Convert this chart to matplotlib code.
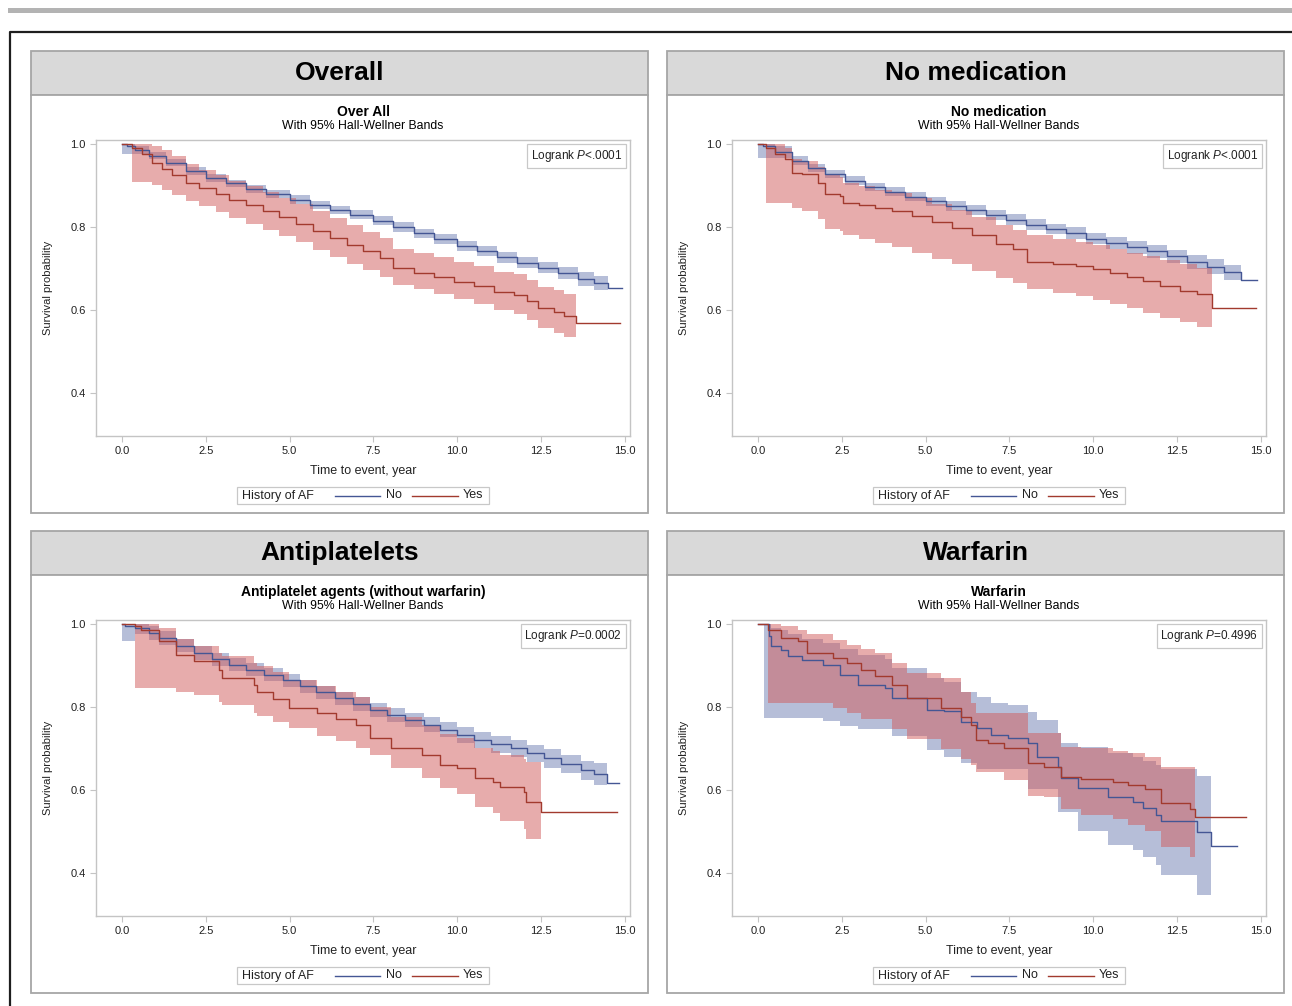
import matplotlib
matplotlib.use('Agg')
import matplotlib.pyplot as plt
from matplotlib.patches import Rectangle
from matplotlib.lines import Line2D

plt.rcParams['font.family'] = ['Liberation Sans', 'DejaVu Sans']
plt.rcParams['mathtext.fontset'] = 'custom'
plt.rcParams['mathtext.rm'] = 'Liberation Sans'
plt.rcParams['mathtext.it'] = 'Liberation Sans:italic'

# ---- data (time in years, survival) ----
x_ticks = [0, 2.5, 5, 7.5, 10, 12.5, 15]
x_tick_labels = ['0.0', '2.5', '5.0', '7.5', '10.0', '12.5', '15.0']
y_ticks = [0.4, 0.6, 0.8, 1.0]
y_tick_labels = ['0.4', '0.6', '0.8', '1.0']

# Overall
overall_no_t = [0, 0.15, 0.4, 0.8, 1.3, 1.9, 2.5, 3.1, 3.7, 4.3, 5.0, 5.6, 6.2, 6.8, 7.5, 8.1, 8.7,
                9.3, 10.0, 10.6, 11.2, 11.8, 12.4, 13.0, 13.6, 14.1, 14.5, 14.93]
overall_no_s = [1.0, 0.995, 0.985, 0.972, 0.955, 0.935, 0.918, 0.905, 0.892, 0.880, 0.866, 0.853, 0.841,
                0.830, 0.815, 0.800, 0.785, 0.770, 0.755, 0.742, 0.727, 0.714, 0.702, 0.689, 0.675, 0.665,
                0.652, 0.652]
overall_no_lo = [0.977, 0.977, 0.975, 0.963, 0.946, 0.926, 0.909, 0.896, 0.883, 0.870, 0.856, 0.843, 0.831,
                 0.819, 0.804, 0.789, 0.774, 0.758, 0.743, 0.729, 0.714, 0.701, 0.688, 0.674, 0.659, 0.648,
                 0.636, 0.636]
overall_no_hi = [1.0, 1.0, 0.994, 0.981, 0.964, 0.944, 0.927, 0.914, 0.901, 0.890, 0.876, 0.863, 0.851,
                 0.841, 0.826, 0.811, 0.796, 0.782, 0.767, 0.755, 0.740, 0.727, 0.716, 0.704, 0.691, 0.682,
                 0.669, 0.669]
overall_yes_t = [0, 0.3, 0.6, 0.9, 1.2, 1.5, 1.9, 2.3, 2.8, 3.2, 3.7, 4.2, 4.7, 5.2, 5.7, 6.2, 6.7, 7.2,
                 7.7, 8.1, 8.7, 9.3, 9.9, 10.5, 11.1, 11.7, 12.1, 12.4, 12.9, 13.2, 13.55, 14.85]
overall_yes_s = [1.0, 0.99, 0.975, 0.955, 0.94, 0.925, 0.905, 0.893, 0.880, 0.866, 0.852, 0.838, 0.823,
                 0.808, 0.790, 0.773, 0.756, 0.741, 0.725, 0.700, 0.690, 0.680, 0.668, 0.657, 0.643, 0.636,
                 0.622, 0.604, 0.595, 0.585, 0.569, 0.569]
overall_yes_lo = [1.0, 0.908, 0.908, 0.900, 0.890, 0.878, 0.862, 0.850, 0.836, 0.822, 0.808, 0.793, 0.778,
                  0.763, 0.745, 0.728, 0.711, 0.696, 0.680, 0.660, 0.650, 0.639, 0.626, 0.614, 0.600, 0.590,
                  0.575, 0.556, 0.545, 0.535, 0.530, 0.530]
overall_yes_hi = [1.0, 1.0, 1.0, 0.995, 0.985, 0.972, 0.952, 0.938, 0.925, 0.912, 0.898, 0.884, 0.870,
                  0.855, 0.838, 0.821, 0.804, 0.789, 0.773, 0.748, 0.738, 0.728, 0.716, 0.705, 0.692, 0.686,
                  0.672, 0.655, 0.647, 0.638, 0.629, 0.629]

# No medication
nomed_no_t = [0, 0.15, 0.5, 1.0, 1.5, 2.0, 2.6, 3.2, 3.8, 4.4, 5.0, 5.6, 6.2, 6.8, 7.4, 8.0, 8.6, 9.2,
              9.8, 10.4, 11.0, 11.6, 12.2, 12.8, 13.4, 13.9, 14.4, 14.9]
nomed_no_s = [1.0, 0.995, 0.980, 0.960, 0.942, 0.928, 0.912, 0.897, 0.885, 0.873, 0.862, 0.851, 0.840,
              0.828, 0.818, 0.806, 0.795, 0.785, 0.772, 0.762, 0.751, 0.741, 0.729, 0.716, 0.704, 0.691,
              0.672, 0.672]
nomed_no_lo = [0.967, 0.967, 0.966, 0.950, 0.932, 0.918, 0.902, 0.887, 0.874, 0.862, 0.851, 0.839, 0.828,
               0.816, 0.805, 0.793, 0.782, 0.771, 0.758, 0.747, 0.736, 0.725, 0.713, 0.699, 0.686, 0.673,
               0.654, 0.654]
nomed_no_hi = [1.0, 1.0, 0.994, 0.970, 0.952, 0.938, 0.922, 0.907, 0.896, 0.884, 0.873, 0.863, 0.852,
               0.840, 0.831, 0.819, 0.808, 0.799, 0.786, 0.777, 0.766, 0.757, 0.745, 0.733, 0.722, 0.709,
               0.690, 0.690]
nomed_yes_t = [0, 0.25, 0.5, 0.8, 1.0, 1.3, 1.8, 2.0, 2.45, 2.55, 3.0, 3.5, 4.0, 4.6, 5.2, 5.8, 6.4, 7.1,
               7.6, 8.02, 8.8, 9.5, 10.0, 10.5, 11.0, 11.5, 12.0, 12.6, 13.1, 13.56, 14.86]
nomed_yes_s = [1.0, 0.99, 0.975, 0.963, 0.931, 0.927, 0.907, 0.879, 0.875, 0.859, 0.853, 0.846, 0.838,
               0.826, 0.812, 0.797, 0.780, 0.760, 0.748, 0.716, 0.712, 0.706, 0.698, 0.688, 0.680, 0.670,
               0.658, 0.646, 0.638, 0.604, 0.604]
nomed_yes_lo = [1.0, 0.859, 0.859, 0.859, 0.845, 0.839, 0.820, 0.795, 0.791, 0.780, 0.772, 0.762, 0.752,
                0.738, 0.724, 0.710, 0.693, 0.676, 0.664, 0.650, 0.642, 0.634, 0.624, 0.614, 0.604, 0.592,
                0.580, 0.570, 0.560, 0.552, 0.552]
nomed_yes_hi = [1.0, 1.0, 1.0, 0.99, 0.965, 0.96, 0.945, 0.925, 0.92, 0.905, 0.898, 0.89, 0.882, 0.87,
                0.855, 0.84, 0.823, 0.805, 0.793, 0.78, 0.772, 0.765, 0.757, 0.748, 0.738, 0.73, 0.72,
                0.71, 0.70, 0.70, 0.70]

# Antiplatelets
anti_no_t = [0, 0.1, 0.4, 0.8, 1.1, 1.6, 2.15, 2.7, 3.2, 3.7, 4.25, 4.8, 5.3, 5.8, 6.35, 6.9, 7.4, 7.9,
             8.45, 9.0, 9.5, 10.0, 10.5, 11.0, 11.6, 12.1, 12.6, 13.1, 13.7, 14.1, 14.47, 14.83]
anti_no_s = [1.0, 0.995, 0.99, 0.978, 0.966, 0.948, 0.930, 0.915, 0.902, 0.890, 0.878, 0.864, 0.850,
             0.835, 0.821, 0.807, 0.793, 0.781, 0.769, 0.757, 0.745, 0.733, 0.721, 0.710, 0.700, 0.688,
             0.676, 0.662, 0.648, 0.638, 0.616, 0.616]
anti_no_lo = [0.958, 0.958, 0.975, 0.962, 0.950, 0.932, 0.914, 0.899, 0.886, 0.874, 0.862, 0.848, 0.834,
              0.819, 0.805, 0.791, 0.777, 0.764, 0.752, 0.739, 0.727, 0.714, 0.702, 0.690, 0.679, 0.667,
              0.654, 0.640, 0.625, 0.612, 0.6, 0.6]
anti_no_hi = [1.0, 1.0, 1.0, 0.994, 0.982, 0.964, 0.946, 0.931, 0.918, 0.906, 0.894, 0.880, 0.866,
              0.851, 0.837, 0.823, 0.809, 0.798, 0.786, 0.775, 0.763, 0.752, 0.740, 0.730, 0.721, 0.709,
              0.698, 0.684, 0.671, 0.664, 0.64, 0.64]
anti_yes_t = [0, 0.4, 0.58, 1.1, 1.62, 2.15, 2.88, 2.99, 3.93, 4.04, 4.5, 4.98, 5.82, 6.4, 6.97, 7.39,
              8.02, 8.96, 9.49, 10.0, 10.53, 11.06, 11.27, 12.0, 12.05, 12.5, 14.78]
anti_yes_s = [1.0, 0.995, 0.986, 0.958, 0.926, 0.910, 0.890, 0.870, 0.854, 0.837, 0.82, 0.797, 0.785,
              0.770, 0.757, 0.725, 0.70, 0.685, 0.660, 0.652, 0.628, 0.62, 0.608, 0.596, 0.572, 0.546, 0.546]
anti_yes_lo = [1.0, 0.845, 0.845, 0.845, 0.835, 0.829, 0.812, 0.805, 0.785, 0.779, 0.765, 0.749, 0.730,
               0.717, 0.700, 0.685, 0.652, 0.630, 0.604, 0.59, 0.56, 0.545, 0.525, 0.505, 0.483, 0.483,
               0.483]
anti_yes_hi = [1.0, 1.0, 1.0, 0.99, 0.965, 0.946, 0.93, 0.922, 0.905, 0.898, 0.885, 0.865, 0.85, 0.835,
               0.825, 0.80, 0.775, 0.757, 0.735, 0.725, 0.70, 0.695, 0.685, 0.675, 0.668, 0.668, 0.668]

# Warfarin
warf_no_t = [0, 0.18, 0.34, 0.39, 0.70, 0.91, 1.32, 1.94, 2.45, 2.97, 3.79, 4.0, 5.05, 5.55, 6.05, 6.55,
             6.95, 7.45, 8.05, 8.34, 8.94, 9.04, 9.54, 10.44, 11.19, 11.49, 11.89, 12.04, 13.09, 13.53, 14.3]
warf_no_s = [1.0, 1.0, 0.97, 0.946, 0.938, 0.922, 0.914, 0.902, 0.878, 0.854, 0.846, 0.822, 0.793, 0.79,
             0.764, 0.749, 0.733, 0.725, 0.713, 0.68, 0.656, 0.629, 0.605, 0.583, 0.571, 0.557, 0.54,
             0.525, 0.499, 0.465, 0.465]
warf_no_lo = [1.0, 0.774, 0.774, 0.774, 0.774, 0.774, 0.774, 0.766, 0.754, 0.746, 0.746, 0.73, 0.696,
              0.68, 0.665, 0.65, 0.65, 0.65, 0.602, 0.602, 0.546, 0.546, 0.50, 0.467, 0.455, 0.439, 0.42,
              0.395, 0.347, 0.347, 0.347]
warf_no_hi = [1.0, 1.0, 1.0, 0.99, 0.985, 0.975, 0.965, 0.955, 0.94, 0.925, 0.915, 0.895, 0.87, 0.86,
              0.836, 0.824, 0.81, 0.805, 0.788, 0.769, 0.737, 0.713, 0.704, 0.69, 0.68, 0.67, 0.66, 0.65,
              0.634, 0.634, 0.634]
warf_yes_t = [0, 0.3, 0.7, 1.2, 1.47, 2.25, 2.66, 3.07, 3.48, 4.0, 4.45, 5.45, 6.05, 6.35, 6.5, 6.85,
              7.35, 8.05, 8.54, 9.04, 9.64, 10.59, 11.04, 11.54, 12.04, 12.88, 13.04, 14.55]
warf_yes_s = [1.0, 0.986, 0.966, 0.958, 0.93, 0.918, 0.906, 0.89, 0.874, 0.852, 0.821, 0.797, 0.776,
              0.757, 0.72, 0.713, 0.70, 0.665, 0.656, 0.632, 0.626, 0.62, 0.612, 0.602, 0.569, 0.555,
              0.535, 0.535]
warf_yes_lo = [1.0, 0.81, 0.81, 0.81, 0.81, 0.798, 0.786, 0.77, 0.77, 0.746, 0.722, 0.698, 0.674, 0.66,
               0.644, 0.644, 0.624, 0.585, 0.582, 0.554, 0.54, 0.53, 0.516, 0.50, 0.463, 0.439, 0.439,
               0.439]
warf_yes_hi = [1.0, 1.0, 0.995, 0.985, 0.975, 0.962, 0.95, 0.94, 0.93, 0.906, 0.882, 0.87, 0.836, 0.81,
               0.786, 0.786, 0.786, 0.737, 0.737, 0.704, 0.70, 0.695, 0.689, 0.679, 0.656, 0.656, 0.656,
               0.656]

panel_headers = ['Overall', 'No medication', 'Antiplatelets', 'Warfarin']
plot_titles = ['Over All', 'No medication', 'Antiplatelet agents (without warfarin)', 'Warfarin']
logrank_labels = ['Logrank $P$<.0001', 'Logrank $P$<.0001', 'Logrank $P$=0.0002', 'Logrank $P$=0.4996']
group_labels = ['No', 'Yes']

curves = [
    [(overall_no_t, overall_no_s, overall_no_lo, overall_no_hi),
     (overall_yes_t, overall_yes_s, overall_yes_lo, overall_yes_hi)],
    [(nomed_no_t, nomed_no_s, nomed_no_lo, nomed_no_hi),
     (nomed_yes_t, nomed_yes_s, nomed_yes_lo, nomed_yes_hi)],
    [(anti_no_t, anti_no_s, anti_no_lo, anti_no_hi),
     (anti_yes_t, anti_yes_s, anti_yes_lo, anti_yes_hi)],
    [(warf_no_t, warf_no_s, warf_no_lo, warf_no_hi),
     (warf_yes_t, warf_yes_s, warf_yes_lo, warf_yes_hi)],
]

# ---- styling ----
LINE_COLORS = ['#445694', '#A23A2E']
FILL_COLORS = ['#6F7EB3', '#D05B5B']
BORDER = '#a6a6a6'
HEADER_FILL = '#d9d9d9'
AX_GRAY = '#c4c4c4'
TXT = '#222222'

W, H = 1292, 1006
fig = plt.figure(figsize=(W / 100, H / 100), dpi=100)


def fx(px):
    return px / W


def fy(py):
    return 1 - py / H


def add_rect(x0, y0, x1, y1, **kw):
    fig.add_artist(Rectangle((fx(x0), fy(y1)), (x1 - x0) / W, (y1 - y0) / H,
                             transform=fig.transFigure, zorder=-5, **kw))


def add_hline(x0, x1, y, **kw):
    fig.add_artist(Line2D([fx(x0), fx(x1)], [fy(y), fy(y)], transform=fig.transFigure, **kw))


# page decorations: gray rule on top and dark frame
add_rect(8, 8, 1292, 13, fc='#b3b3b3', ec='none')
fig.add_artist(Line2D([fx(10), fx(10), fx(1292)], [fy(1006), fy(32), fy(32)],
                      transform=fig.transFigure, color='#1e1e1e', lw=1.6))

origins = [(31, 51), (667, 51), (31, 531), (667, 531)]

for i, (x0, y0) in enumerate(origins):
    # header strip and panel body
    add_rect(x0, y0, x0 + 617, y0 + 44, fc=HEADER_FILL, ec=BORDER, lw=1.3)
    add_rect(x0, y0 + 44, x0 + 617, y0 + 462, fc='white', ec=BORDER, lw=1.3)
    fig.text(fx(x0 + 308.5), fy(y0 + 22), panel_headers[i], ha='center', va='center',
             fontsize=19, fontweight='bold', color='black')

    fig.text(fx(x0 + 332), fy(y0 + 61), plot_titles[i], ha='center', va='center',
             fontsize=10, fontweight='bold', color='black')
    fig.text(fx(x0 + 332), fy(y0 + 75), 'With 95% Hall-Wellner Bands', ha='center', va='center',
             fontsize=8.8, color='black')

    ax = fig.add_axes([fx(x0 + 65), fy(y0 + 385), 534 / W, 296 / H])
    for g, (t, s, lo, hi) in enumerate(curves[i]):
        # band stops at the last event time, the line runs on to the last follow-up
        ax.fill_between(t[:-1], lo[:-1], hi[:-1], step='post', color=FILL_COLORS[g],
                        alpha=0.5, lw=0, zorder=1 + g)
    for g, (t, s, lo, hi) in enumerate(curves[i]):
        ax.step(t, s, where='post', color=LINE_COLORS[g], lw=1.0, zorder=4 + g)

    ax.set_xlim(-0.776, 15.16)
    ax.set_ylim(0.2964, 1.0096)
    ax.set_xticks(x_ticks)
    ax.set_xticklabels(x_tick_labels)
    ax.set_yticks(y_ticks)
    ax.set_yticklabels(y_tick_labels)
    ax.tick_params(length=4, width=0.8, color=AX_GRAY, labelsize=8, labelcolor=TXT, pad=3.5)
    for sp in ax.spines.values():
        sp.set_color(AX_GRAY)
        sp.set_linewidth(1.0)

    ax.text(1 - 8 / 534, 1 - 8 / 296, logrank_labels[i], transform=ax.transAxes,
            ha='right', va='top', fontsize=8.5, color=TXT, zorder=10,
            bbox=dict(boxstyle='square,pad=0.3', fc='white', ec='#c8c8c8', lw=0.9))

    fig.text(fx(x0 + 17), fy(y0 + 237), 'Survival probability', rotation=90,
             ha='center', va='center', fontsize=8, color=TXT)
    fig.text(fx(x0 + 332), fy(y0 + 420), 'Time to event, year', ha='center', va='center',
             fontsize=9, color=TXT)

    # legend strip under the axis
    add_rect(x0 + 206, y0 + 436, x0 + 458, y0 + 453, fc='white', ec='#c8c8c8', lw=0.9)
    ly = y0 + 444.5
    fig.text(fx(x0 + 211), fy(ly), 'History of AF', ha='left', va='center', fontsize=9, color=TXT)
    add_hline(x0 + 304, x0 + 349, ly, color=LINE_COLORS[0], lw=1.0)
    fig.text(fx(x0 + 355), fy(ly), group_labels[0], ha='left', va='center', fontsize=9, color=TXT)
    add_hline(x0 + 381, x0 + 427, ly, color=LINE_COLORS[1], lw=1.0)
    fig.text(fx(x0 + 432), fy(ly), group_labels[1], ha='left', va='center', fontsize=9, color=TXT)

fig.savefig('out.png', dpi=100, facecolor='white')
